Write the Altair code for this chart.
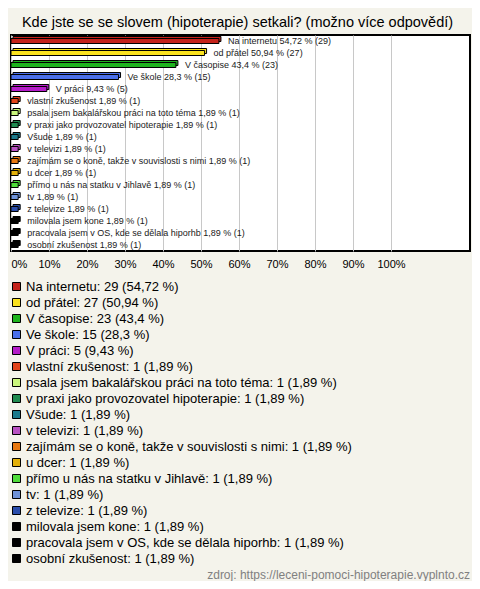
import altair as alt
import pandas as pd

categories = [
    "Na internetu", "od přátel", "V časopise", "Ve škole", "V práci",
    "vlastní zkušenost", "psala jsem bakalářskou práci na toto téma",
    "v praxi jako provozovatel hipoterapie", "Všude", "v televizi",
    "zajímám se o koně, takže v souvislosti s nimi", "u dcer",
    "přímo u nás na statku v Jihlavě", "tv", "z televize",
    "milovala jsem kone", "pracovala jsem v OS, kde se dělala hiporhb",
    "osobní zkušenost",
]
counts = [29, 27, 23, 15, 5, 1, 1, 1, 1, 1, 1, 1, 1, 1, 1, 1, 1, 1]
percents = [54.72, 50.94, 43.4, 28.3, 9.43, 1.89, 1.89, 1.89, 1.89, 1.89,
            1.89, 1.89, 1.89, 1.89, 1.89, 1.89, 1.89, 1.89]
colors = [
    "#C4221A", "#FAE21E", "#1DB41D", "#4A6FEA", "#B41CC8", "#E2441A",
    "#C9F57C", "#1F8B50", "#1C7A8C", "#B852C2", "#E8780F", "#E2B00A",
    "#4FDC3A", "#6F93D9", "#2A4DAA", "#000000", "#000000", "#000000",
]
ticks = [0, 10, 20, 30, 40, 50, 60, 70, 80, 90, 100]
source_note = "zdroj: https://leceni-pomoci-hipoterapie.vyplnto.cz"


def fmt(p):
    s = f"{p:.2f}".rstrip("0").rstrip(".")
    return s.replace(".", ",")


df = pd.DataFrame({"cat": categories, "count": counts, "pct": percents})
df["bar_label"] = [f"{c} {fmt(p)} % ({n})" for c, p, n in zip(categories, percents, counts)]
df["legend_label"] = [f"{c}: {n} ({fmt(p)} %)" for c, p, n in zip(categories, percents, counts)]
legend_labels = list(df["legend_label"])

W, H = 459, 216

x = alt.X("pct:Q", scale=alt.Scale(domain=[0, W / 3.8], nice=False, zero=True),
          axis=alt.Axis(values=ticks, title=None, grid=True, gridColor="#C8C8C8",
                        domain=False, ticks=False, labelPadding=7, labelFontSize=11,
                        labelFont="Liberation Sans", labelColor="#000000",
                        labelFlush=True, labelExpr="datum.value + '%'"))
y = alt.Y("cat:N", sort=categories, axis=None,
          scale=alt.Scale(paddingInner=0, paddingOuter=0))
color = alt.Color("legend_label:N",
                  scale=alt.Scale(domain=legend_labels, range=colors),
                  legend=alt.Legend(title=None, orient="none", legendX=-1, legendY=245,
                                    symbolType="square", symbolSize=64,
                                    symbolStrokeColor="#000000", symbolStrokeWidth=1,
                                    labelFontSize=13, labelFont="Liberation Sans",
                                    labelColor="#000000", labelLimit=600,
                                    rowPadding=2, labelOffset=3, symbolOpacity=1))

base = alt.Chart(df)

depth = base.mark_bar(size=5, stroke="#000000", strokeWidth=1, xOffset=2, yOffset=-2).encode(
    x=x, y=y, color=color)
front = base.mark_bar(size=5, stroke="#000000", strokeWidth=1).encode(x=x, y=y, color=color)
labels = base.mark_text(align="left", baseline="middle", dx=9, fontSize=9,
                        font="Liberation Sans", color="#1a1a1a").encode(
    x="pct:Q", y=y, text="bar_label:N")

note = alt.Chart(pd.DataFrame({"t": [source_note]})).mark_text(
    align="right", baseline="middle", fontSize=12, font="Liberation Sans", color="#808080"
).encode(text="t:N", x=alt.value(W), y=alt.value(540))

chart = alt.layer(depth, front, labels, note).properties(
    width=W, height=H,
    title=alt.TitleParams("Kde jste se se slovem (hipoterapie) setkali? (možno více odpovědí)",
                          fontSize=14.5, font="Liberation Sans", fontWeight="normal",
                          color="#000000", anchor="middle", baseline="middle", offset=15,
                          dy=17, dx=-3),
    autosize=alt.AutoSizeParams(type="none"),
    padding={"left": 3, "top": 27, "right": 2, "bottom": 330},
    background="#F4F3EB",
).configure_view(fill="#FFFFFF", stroke="#000000", strokeWidth=2)

chart.save("out.html", embed_options={"renderer": "svg", "actions": False})
